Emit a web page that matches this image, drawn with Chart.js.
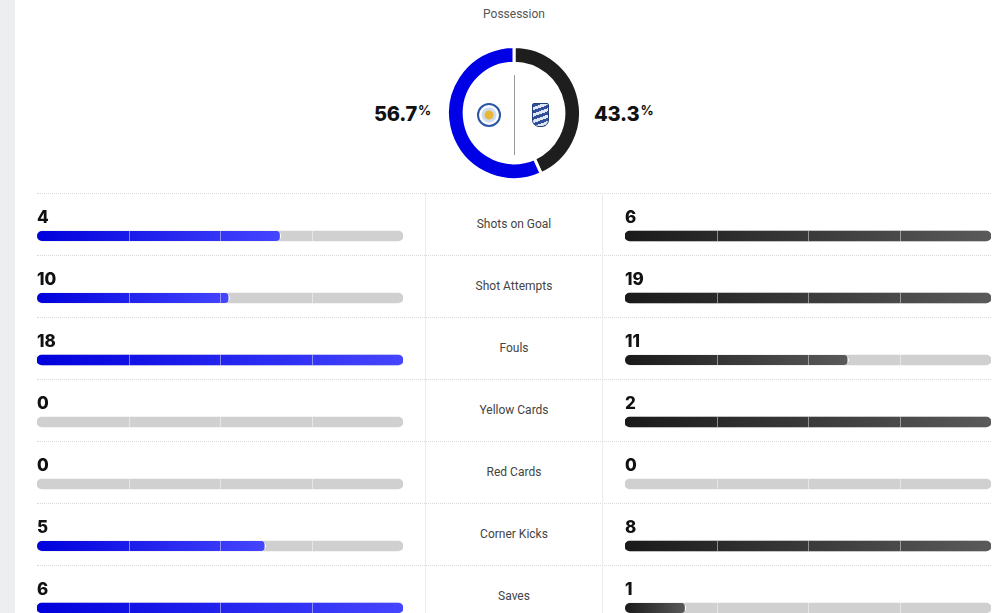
<!DOCTYPE html>
<html>
<head>
<meta charset="utf-8">
<script src="https://cdn.jsdelivr.net/npm/chart.js@4.4.1/dist/chart.umd.min.js"></script>
<style>
    html, body {
        margin: 0;
        padding: 0;
        width: 1000px;
        height: 613px;
        overflow: hidden;
        background: #fff;
        font-family: Roboto, "Noto Sans", sans-serif;
    }
    .strip {
        position: absolute;
        left: 0; top: 0;
        width: 15px; height: 613px;
        background: #eceef0;
    }
    .title {
        position: absolute;
        left: 414px; width: 200px; top: 7px;
        text-align: center;
        font-size: 12px;
        color: #555;
    }
    .pct {
        position: absolute;
        top: 102px;
        line-height: 24px;
        font-family: Inter, Lato, sans-serif;
        font-weight: 800;
        font-size: 20px;
        color: #111;
        letter-spacing: -0.2px;
    }
    .pct sup {
        font-size: 13px;
        font-weight: 700;
        vertical-align: 6px;
        line-height: 0;
        margin-left: 1px;
    }
    #pctHome { right: 569px; text-align: right; }
    #pctAway { left: 594px; }
    #possession {
        position: absolute;
        left: 446px; top: 45px;
    }
    .midline {
        position: absolute;
        left: 514px; top: 75px;
        width: 1px; height: 80px;
        background: #9a9a9a;
    }
    .logo-home {
        position: absolute;
        left: 477px; top: 103px;
        width: 20px; height: 20px;
        border-radius: 50%;
        border: 2px solid #2a56a8;
        background: radial-gradient(circle, #e8b735 0 4px, #cfdcf0 5px 7px, #ffffff 8px);
    }
    .logo-away {
        position: absolute;
        left: 532px; top: 103px;
        width: 15px; height: 22px;
        border-radius: 2px 2px 7px 7px;
        background: repeating-linear-gradient(160deg, #2f4f9a 0 3px, #dfe6f3 3px 6px);
        border: 1px solid #24407e;
    }
    .sep {
        position: absolute;
        left: 37px; width: 954px;
        border-top: 1px dotted #d9d9d9;
    }
    .vline {
        position: absolute;
        top: 193px; height: 430px;
        width: 1px;
        background: #ececec;
    }
    .stat-label {
        position: absolute;
        left: 426px; width: 176px;
        text-align: center;
        font-size: 12px;
        line-height: 16px;
        color: #444;
    }
    #homeBars { position: absolute; left: 37px; top: 205px; }
    #awayBars { position: absolute; left: 625px; top: 205px; }
</style>
</head>
<body>
<div class="strip"></div>
<div class="title">Possession</div>
<div class="pct" id="pctHome"></div>
<div class="pct" id="pctAway"></div>
<canvas id="possession" width="136" height="136"></canvas>
<div class="midline"></div>
<div class="logo-home"></div>
<div class="logo-away"></div>
<div id="table"></div>
<canvas id="homeBars" width="366" height="434"></canvas>
<canvas id="awayBars" width="366" height="434"></canvas>

<script>
const teams = ['Leicester City', 'Birmingham City'];
const possession = [56.7, 43.3];

const categories = ['Shots on Goal', 'Shot Attempts', 'Fouls', 'Yellow Cards', 'Red Cards', 'Corner Kicks', 'Saves'];
const homeValues = [4, 10, 18, 0, 0, 5, 6];
const awayValues = [6, 19, 11, 2, 0, 8, 1];

const homeColor = '#0000e6';
const awayColor = '#1e1e1e';
const trackColor = '#d0d0d0';

// share of the bigger of the two numbers, like the site does
function shares(values, other) {
    return values.map((v, i) => {
        const top = Math.max(v, other[i]);
        return top > 0 ? v / top : 0;
    });
}

function pctHtml(v) {
    return v.toFixed(1) + '<sup>%</sup>';
}

document.getElementById('pctHome').innerHTML = pctHtml(possession[0]);
document.getElementById('pctAway').innerHTML = pctHtml(possession[1]);

// row separators, middle column and labels
const table = document.getElementById('table');
let html = '';
categories.forEach((name, i) => {
    const top = 193 + i * 62;
    html += `<div class="sep" style="top:${top}px"></div>`;
    html += `<div class="stat-label" style="top:${top + 23}px">${name}</div>`;
});
html += '<div class="vline" style="left:425px"></div><div class="vline" style="left:602px"></div>';
table.innerHTML = html;

new Chart(document.getElementById('possession'), {
    type: 'doughnut',
    data: {
        labels: [teams[1], teams[0]],
        datasets: [{
            data: [possession[1], possession[0]],
            backgroundColor: [awayColor, homeColor],
            borderColor: '#ffffff',
            borderWidth: 3
        }]
    },
    options: {
        responsive: false,
        animation: false,
        cutout: '75%',
        rotation: 0,
        plugins: {
            legend: { display: false },
            tooltip: { enabled: false }
        }
    }
});

function gradientFill(c0, c1) {
    return function (ctx) {
        const chart = ctx.chart;
        const area = chart.chartArea;
        if (!ctx.raw) return 'rgba(0,0,0,0)';
        if (!area || !chart.scales.x) return c0;
        const end = chart.scales.x.getPixelForValue(ctx.raw);
        const g = chart.ctx.createLinearGradient(area.left, 0, Math.max(end, area.left + 1), 0);
        g.addColorStop(0, c0);
        g.addColorStop(1, c1);
        return g;
    };
}

const barDecor = {
    id: 'barDecor',
    afterDatasetsDraw(chart, args, opts) {
        const ctx = chart.ctx;
        const area = chart.chartArea;
        const meta = chart.getDatasetMeta(0);
        ctx.save();
        meta.data.forEach((bar, i) => {
            const y = bar.y;
            // quarter dividers
            ctx.strokeStyle = 'rgba(255,255,255,0.45)';
            ctx.lineWidth = 1;
            [0.25, 0.5, 0.75].forEach(q => {
                const x = Math.round(chart.scales.x.getPixelForValue(q)) + 0.5;
                ctx.beginPath();
                ctx.moveTo(x, y - 5);
                ctx.lineTo(x, y + 5);
                ctx.stroke();
            });
            // number above the bar
            ctx.fillStyle = '#111';
            ctx.font = '800 17px Inter, Lato, sans-serif';
            ctx.textAlign = 'left';
            ctx.textBaseline = 'middle';
            ctx.fillText(String(opts.values[i]), area.left, y - 18);
        });
        ctx.restore();
    }
};

function statChart(id, values, other, c0, c1) {
    return new Chart(document.getElementById(id), {
        type: 'bar',
        data: {
            labels: categories,
            datasets: [{
                data: categories.map(() => 1),
                backgroundColor: trackColor,
                borderRadius: 5,
                borderSkipped: false,
                barThickness: 10,
                grouped: false,
                order: 2
            }, {
                data: shares(values, other),
                backgroundColor: gradientFill(c0, c1),
                borderColor: ctx => ctx.raw ? '#ffffff' : 'rgba(0,0,0,0)',
                borderWidth: ctx => (ctx.raw > 0 && ctx.raw < 1)
                    ? { top: 0, bottom: 0, left: 0, right: 1.5 } : 0,
                borderRadius: 5,
                borderSkipped: false,
                barThickness: 10,
                grouped: false,
                order: 1
            }]
        },
        options: {
            indexAxis: 'y',
            responsive: false,
            animation: false,
            layout: { padding: 0 },
            scales: {
                x: { display: false, min: 0, max: 1 },
                y: { display: false }
            },
            plugins: {
                legend: { display: false },
                tooltip: { enabled: false },
                barDecor: { values: values }
            }
        },
        plugins: [barDecor]
    });
}

statChart('homeBars', homeValues, awayValues, '#0000dc', '#4646ff');
statChart('awayBars', awayValues, homeValues, '#1a1a1a', '#5a5a5a');
</script>
</body>
</html>
